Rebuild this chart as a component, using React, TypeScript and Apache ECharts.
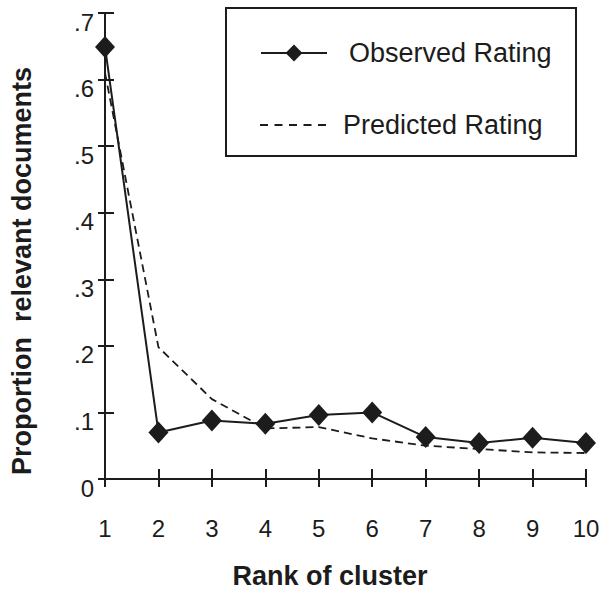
import React, { useEffect, useRef } from 'react';
import * as echarts from 'echarts';

const ranks = ['1', '2', '3', '4', '5', '6', '7', '8', '9', '10'];
const observed = [0.649, 0.07, 0.088, 0.083, 0.096, 0.1, 0.063, 0.054, 0.062, 0.054];
const predicted = [0.61, 0.198, 0.12, 0.076, 0.078, 0.061, 0.05, 0.045, 0.04, 0.039];
const seriesNames = ['Observed Rating', 'Predicted Rating'];
const xTitle = 'Rank of cluster';
const yTitle = 'Proportion  relevant documents';

const FONT = '"Liberation Sans", Arial, Helvetica, sans-serif';
const INK = '#1c1c1c';
const DASH_ICON = 'path://M0 0h8v2H0z M14.5 0h8v2h-8z M29 0h8v2h-8z M43.5 0h8v2h-8z M58 0h8v2h-8z';

export default function App() {
  const ref = useRef<HTMLDivElement>(null);
  useEffect(() => {
    if (!ref.current) return;
    const chart = echarts.init(ref.current, undefined, { renderer: 'svg' });
    const fmtY = (v: number) => (v === 0 ? '0' : '.' + Math.round(v * 10));
    chart.setOption({
      animation: false,
      backgroundColor: '#fff',
      grid: { left: 105, right: 20, top: 13, bottom: 113, containLabel: false },
      xAxis: [
        {
          type: 'category',
          data: ranks,
          boundaryGap: false,
          position: 'bottom',
          axisLine: { show: true, lineStyle: { color: INK, width: 2 } },
          axisTick: { show: true, inside: false, length: 8, lineStyle: { color: INK, width: 2 } },
          axisLabel: { color: INK, fontSize: 24, fontFamily: FONT, margin: 37 },
          splitLine: { show: false },
        },
        {
          type: 'category',
          data: ranks,
          boundaryGap: false,
          position: 'bottom',
          offset: 0,
          axisLine: { show: false },
          axisTick: { show: true, inside: true, length: 10, lineStyle: { color: INK, width: 2 } },
          axisLabel: { show: false },
          splitLine: { show: false },
        },
      ],
      yAxis: [
        {
          type: 'value',
          min: 0,
          max: 0.7,
          interval: 0.1,
          position: 'left',
          axisLine: { show: true, lineStyle: { color: INK, width: 2 } },
          axisTick: { show: true, inside: false, length: 7, lineStyle: { color: INK, width: 2 } },
          axisLabel: {
            color: INK,
            fontSize: 24,
            fontFamily: FONT,
            margin: 11,
            formatter: fmtY,
            verticalAlign: 'top',
            lineHeight: 18,
          },
          splitLine: { show: false },
        },
        {
          type: 'value',
          min: 0,
          max: 0.7,
          interval: 0.1,
          position: 'left',
          offset: 0,
          axisLine: { show: false },
          axisTick: { show: true, inside: true, length: 9, lineStyle: { color: INK, width: 2 } },
          axisLabel: { show: false },
          splitLine: { show: false },
        },
      ],
      legend: [
        {
          data: [seriesNames[0]],
          left: 260,
          top: 30,
          padding: 0,
          itemWidth: 66,
          itemHeight: 21,
          textStyle: { color: INK, fontSize: 27, fontFamily: FONT, lineHeight: 30, padding: [16, 0, 0, 17] },
        },
        {
          data: [{ name: seriesNames[1], icon: DASH_ICON }],
          left: 260,
          top: 102,
          padding: 0,
          itemWidth: 66,
          itemHeight: 2,
          symbolKeepAspect: false,
          textStyle: { color: INK, fontSize: 27, fontFamily: FONT, lineHeight: 30, padding: [16, 0, 0, 12] },
        },
      ],
      graphic: [
        {
          type: 'rect',
          shape: { x: 226, y: 8, width: 350, height: 148 },
          style: { fill: 'transparent', stroke: INK, lineWidth: 2 },
          z: 10,
        },
        {
          type: 'text',
          x: 330,
          y: 576,
          style: {
            text: xTitle,
            fill: INK,
            font: `bold 27px ${FONT}`,
            align: 'center',
            verticalAlign: 'middle',
          },
        },
        {
          type: 'text',
          x: 22,
          y: 271,
          rotation: Math.PI / 2,
          style: {
            text: yTitle,
            fill: INK,
            font: `bold 27px ${FONT}`,
            align: 'center',
            verticalAlign: 'middle',
          },
        },
      ],
      series: [
        {
          name: seriesNames[1],
          type: 'line',
          data: predicted,
          xAxisIndex: 0,
          yAxisIndex: 0,
          symbol: 'none',
          lineStyle: { color: INK, width: 1.8, type: [8, 5] },
          itemStyle: { color: INK },
          z: 2,
        },
        {
          name: seriesNames[0],
          type: 'line',
          data: observed,
          xAxisIndex: 0,
          yAxisIndex: 0,
          symbol: 'diamond',
          symbolSize: [20, 22],
          lineStyle: { color: INK, width: 2 },
          itemStyle: { color: INK },
          z: 3,
        },
      ],
    });
    return () => chart.dispose();
  }, []);
  return <div ref={ref} style={{ width: 606, height: 592, position: 'absolute', left: 0, top: 0 }} />;
}
